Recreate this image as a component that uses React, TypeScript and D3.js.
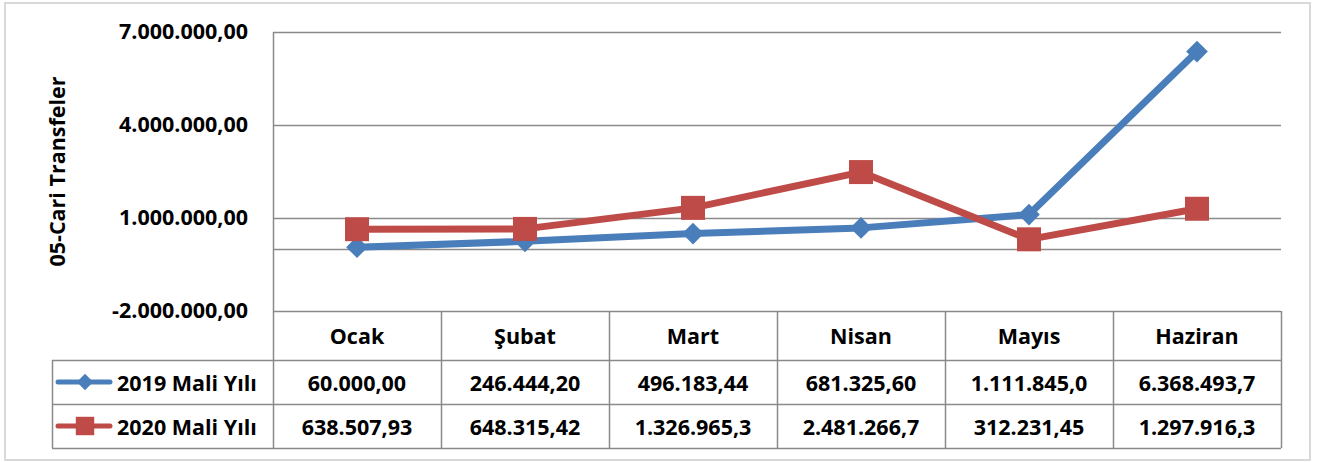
import React, { useEffect, useRef } from 'react';
import * as d3 from 'd3';

const months = ['Ocak', 'Şubat', 'Mart', 'Nisan', 'Mayıs', 'Haziran'];
const values2019 = [60000.0, 246444.2, 496183.44, 681325.6, 1111845.0, 6368493.7];
const values2020 = [638507.93, 648315.42, 1326965.3, 2481266.7, 312231.45, 1297916.3];
// the table cells show these (Excel cut the long ones short)
const labels2019 = ['60.000,00', '246.444,20', '496.183,44', '681.325,60', '1.111.845,0', '6.368.493,7'];
const labels2020 = ['638.507,93', '648.315,42', '1.326.965,3', '2.481.266,7', '312.231,45', '1.297.916,3'];
const yTicks = [-2000000, 1000000, 4000000, 7000000];
const seriesNames = ['2019 Mali Yılı', '2020 Mali Yılı'];
const axisTitle = '05-Cari Transfeler';

const BLUE = '#4a7ebb';
const RED = '#be4b48';
const GRID = '#8a8a8a';
const FONT = '"Open Sans", sans-serif';
const FS = 21.5;

const App = () => {
  const ref = useRef<SVGSVGElement>(null);

  useEffect(() => {
    const svg = d3.select(ref.current);
    svg.selectAll('*').remove();

    const left = 273;
    const right = 1281;
    const top = 32;
    const bottom = 311;
    const rows = [311, 360, 404, 448];
    const legendLeft = 52;

    const x = d3.scaleBand().domain(months).range([left, right]);
    const cx = (m) => x(m) + x.bandwidth() / 2;
    const y = d3.scaleLinear().domain([-2000000, 7000000]).range([bottom, top]);

    const trFormat = d3.formatLocale({ decimal: ',', thousands: '.', grouping: [3], currency: ['', ''], minus: '-' }).format(',.2f');

    // outer chart frame
    svg.append('rect')
      .attr('x', 5).attr('y', 3).attr('width', 1305).attr('height', 457)
      .attr('fill', '#fff').attr('stroke', '#d9d9d9').attr('stroke-width', 2);

    // gridlines (plus the zero line where the category axis crosses)
    svg.append('g')
      .selectAll('line')
      .data([...yTicks, 0])
      .enter()
      .append('line')
      .attr('x1', left).attr('x2', right)
      .attr('y1', (d) => Math.round(y(d)) + 0.5).attr('y2', (d) => Math.round(y(d)) + 0.5)
      .attr('stroke', GRID).attr('stroke-width', 1.5);

    // y axis labels
    const yAxis = svg.append('g')
      .attr('transform', `translate(${left},0)`)
      .call(d3.axisLeft(y).tickValues(yTicks).tickFormat(trFormat).tickSize(0).tickPadding(25));
    yAxis.select('.domain').remove();
    yAxis.selectAll('text')
      .attr('font-family', FONT).attr('font-weight', 'bold').attr('font-size', FS).attr('fill', '#000');

    // axis title
    svg.append('text')
      .attr('transform', `translate(65,${(top + bottom) / 2}) rotate(-90)`)
      .attr('text-anchor', 'middle')
      .attr('font-family', FONT).attr('font-weight', 'bold').attr('font-size', FS)
      .text(axisTitle);

    // data table grid
    const tbl = svg.append('g').attr('stroke', GRID).attr('stroke-width', 1.5);
    tbl.append('line').attr('x1', left + 0.5).attr('x2', left + 0.5).attr('y1', top).attr('y2', rows[3]);
    tbl.selectAll('.col')
      .data(months.slice(1))
      .enter()
      .append('line')
      .attr('x1', (d) => Math.round(x(d)) + 0.5).attr('x2', (d) => Math.round(x(d)) + 0.5)
      .attr('y1', rows[0]).attr('y2', rows[3]);
    tbl.append('line').attr('x1', right + 0.5).attr('x2', right + 0.5).attr('y1', rows[0]).attr('y2', rows[3]);
    tbl.append('line').attr('x1', legendLeft + 0.5).attr('x2', legendLeft + 0.5).attr('y1', rows[1]).attr('y2', rows[3]);
    tbl.selectAll('.row')
      .data(rows.slice(1))
      .enter()
      .append('line')
      .attr('x1', legendLeft).attr('x2', right)
      .attr('y1', (d) => d + 0.5).attr('y2', (d) => d + 0.5);

    const txt = svg.append('g')
      .attr('font-family', FONT).attr('font-weight', 'bold').attr('font-size', FS)
      .attr('text-anchor', 'middle').attr('dominant-baseline', 'central');

    txt.selectAll('.cat')
      .data(months)
      .enter()
      .append('text')
      .attr('x', cx).attr('y', (rows[0] + rows[1]) / 2)
      .text((d) => d);

    const tableRows = [labels2019, labels2020];
    tableRows.forEach((labels, r) => {
      txt.selectAll(`.v${r}`)
        .data(labels)
        .enter()
        .append('text')
        .attr('x', (d, i) => cx(months[i])).attr('y', (rows[r + 1] + rows[r + 2]) / 2)
        .text((d) => d);
    });

    const diamond = d3.symbol().type(d3.symbolDiamond2);
    const square = d3.symbol().type(d3.symbolSquare);
    const series = [
      { name: seriesNames[0], values: values2019, color: BLUE, sym: diamond, size: 300, legendSize: 170 },
      { name: seriesNames[1], values: values2020, color: RED, sym: square, size: 576, legendSize: 340 },
    ];

    // legend keys in the table
    series.forEach((s, r) => {
      const ly = (rows[r + 1] + rows[r + 2]) / 2;
      svg.append('line')
        .attr('x1', 58).attr('x2', 110).attr('y1', ly).attr('y2', ly)
        .attr('stroke', s.color).attr('stroke-width', 5).attr('stroke-linecap', 'round');
      svg.append('path')
        .attr('d', s.sym.size(s.legendSize)())
        .attr('transform', `translate(85,${ly})`)
        .attr('fill', s.color);
      svg.append('text')
        .attr('x', 117).attr('y', ly)
        .attr('dominant-baseline', 'central')
        .attr('font-family', FONT).attr('font-weight', 'bold').attr('font-size', FS)
        .text(s.name);
    });

    // lines + markers
    const line = d3.line<number>()
      .x((d, i) => cx(months[i]))
      .y((d) => y(d));

    series.forEach((s) => {
      svg.append('path')
        .datum(s.values)
        .attr('d', line)
        .attr('fill', 'none')
        .attr('stroke', s.color)
        .attr('stroke-width', 7)
        .attr('stroke-linejoin', 'round');
    });
    series.forEach((s) => {
      svg.append('g')
        .selectAll('path')
        .data(s.values)
        .enter()
        .append('path')
        .attr('d', s.sym.size(s.size)())
        .attr('transform', (d, i) => `translate(${cx(months[i])},${y(d)})`)
        .attr('fill', s.color);
    });
  }, []);

  return (
    <svg
      ref={ref}
      width={1325}
      height={462}
      style={{ position: 'absolute', left: 0, top: 0, background: '#fff' }}
    />
  );
};

export default App;
